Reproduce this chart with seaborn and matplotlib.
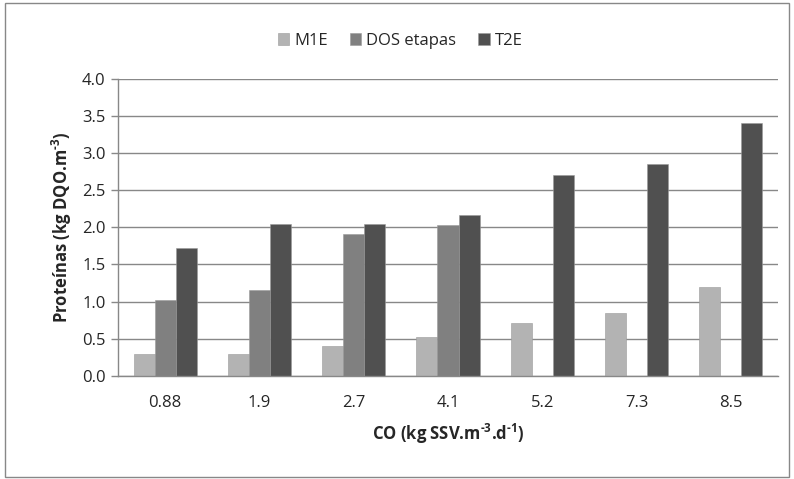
import numpy as np
import pandas as pd
import matplotlib
matplotlib.use("Agg")
import matplotlib.pyplot as plt
from matplotlib.patches import Rectangle
import seaborn as sns

categories = ["0.88", "1.9", "2.7", "4.1", "5.2", "7.3", "8.5"]
m1e = [0.29, 0.29, 0.40, 0.52, 0.71, 0.84, 1.20]
dos_etapas = [1.02, 1.16, 1.91, 2.03, np.nan, np.nan, np.nan]
t2e = [1.72, 2.05, 2.05, 2.16, 2.70, 2.86, 3.41]
series_names = ["M1E", "DOS etapas", "T2E"]
colors = ["#B3B3B3", "#808080", "#505050"]

df = pd.DataFrame({
    "CO": categories * 3,
    "serie": np.repeat(series_names, len(categories)),
    "valor": m1e + dos_etapas + t2e,
})

sns.set_theme(style="white")
plt.rcParams["font.family"] = ["Open Sans", "DejaVu Sans"]
plt.rcParams["mathtext.fontset"] = "custom"
plt.rcParams["mathtext.rm"] = "Open Sans:bold"
plt.rcParams["mathtext.bf"] = "Open Sans:bold"
plt.rcParams["mathtext.it"] = "Open Sans:bold"

fig = plt.figure(figsize=(7.94, 4.79), dpi=100)
W, H = 794, 479
ax = fig.add_axes([118 / W, 1 - 375.7 / H, (778 - 118) / W, (375.7 - 79) / H])

sns.barplot(data=df, x="CO", y="valor", hue="serie", hue_order=series_names,
            order=categories, palette=colors, width=0.67, ax=ax,
            edgecolor="#9a9a9a", linewidth=0.4, errorbar=None, legend=True)

ax.set_ylim(0, 4.0)
ax.set_xlim(-0.5, len(categories) - 0.5)
ax.set_yticks(np.arange(0, 4.01, 0.5))
ax.set_yticklabels([f"{v:.1f}" for v in np.arange(0, 4.01, 0.5)], fontsize=12)
ax.tick_params(axis="x", which="major", length=0, pad=14, labelsize=12)
ax.set_xticks(np.arange(len(categories) + 1) - 0.5, minor=True)
ax.tick_params(axis="x", which="minor", length=5, color="#888888", width=1, direction="out")
ax.tick_params(axis="y", length=5, color="#888888", width=1, direction="out", left=True, pad=4)
ax.yaxis.grid(True, color="#888888", linewidth=1)
ax.set_axisbelow(True)
for s in ["top", "right"]:
    ax.spines[s].set_visible(False)
for s in ["left", "bottom"]:
    ax.spines[s].set_color("#888888")
    ax.spines[s].set_linewidth(1)

ax.set_ylabel(r"Proteínas (kg DQO.m$^{\text{-}3}$)", fontsize=12, fontweight="bold", labelpad=6)
ax.set_xlabel(r"CO (kg SSV.m$^{\text{-}3}$.d$^{\text{-}1}$)", fontsize=12, fontweight="bold", labelpad=8)

leg = ax.legend(loc="upper center", bbox_to_anchor=(400 / W, 1 - 18 / H),
                bbox_transform=fig.transFigure, ncol=3,
                frameon=False, fontsize=12, handlelength=0.7, handleheight=0.7,
                handletextpad=0.3, columnspacing=1.3)

fig.patches.append(Rectangle((5 / W, 2 / H), 784 / W, 474 / H, transform=fig.transFigure,
                             fill=False, edgecolor="#888888", linewidth=1))

fig.savefig("out.png", dpi=100)
